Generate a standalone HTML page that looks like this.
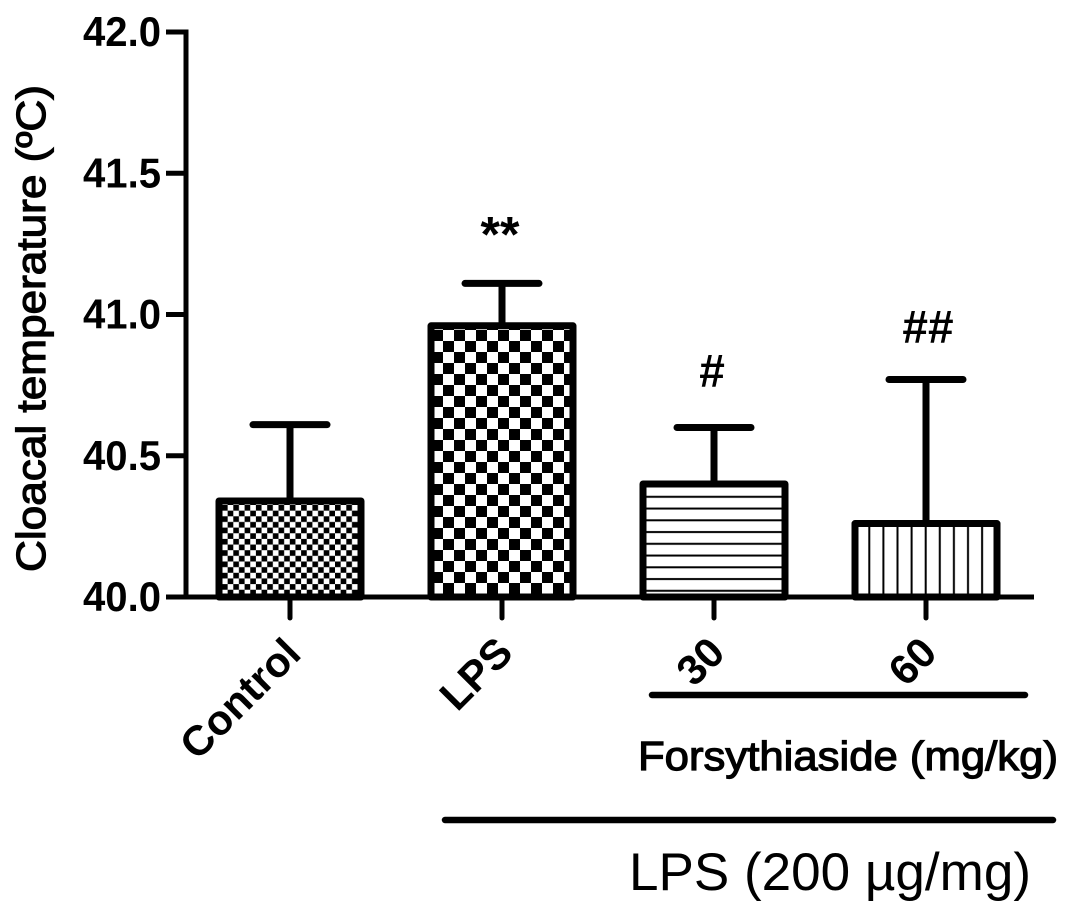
<!DOCTYPE html>
<html lang="en">
<head>
<meta charset="utf-8">
<title>Cloacal temperature chart</title>
<style>
html,body{margin:0;padding:0;background:#fff;}
svg{display:block;font-family:"Liberation Sans",Arial,sans-serif;}
</style>
</head>
<body>
<svg id="chart" width="1087" height="920" viewBox="0 0 1087 920" xmlns="http://www.w3.org/2000/svg">
  <defs>
    <pattern id="p-fine" patternUnits="userSpaceOnUse" width="11.3" height="11.3" x="222" y="505">
      <rect width="11.3" height="11.3" fill="#fff"/>
      <rect width="5.65" height="5.65" fill="#000"/>
      <rect x="5.65" y="5.65" width="5.65" height="5.65" fill="#000"/>
    </pattern>
    <pattern id="p-coarse" patternUnits="userSpaceOnUse" width="22" height="22" x="432" y="330">
      <rect width="22" height="22" fill="#fff"/>
      <rect x="0" y="0" width="11" height="11" fill="#000"/>
      <rect x="11" y="11" width="11" height="11" fill="#000"/>
    </pattern>
    <pattern id="p-horizontal" patternUnits="userSpaceOnUse" width="20" height="11.75" x="0" y="490.8">
      <rect width="20" height="11.75" fill="#fff"/>
      <rect y="5" width="20" height="2" fill="#000"/>
    </pattern>
    <pattern id="p-vertical" patternUnits="userSpaceOnUse" width="14.1" height="20" x="862.3" y="0">
      <rect width="14.1" height="20" fill="#fff"/>
      <rect x="6" width="2" height="20" fill="#000"/>
    </pattern>
  </defs>
  <g id="layer-bars"></g>
  <g id="layer-axes"></g>
  <g id="layer-labels"></g>
  <text transform="translate(45,572) rotate(-90)" font-size="41" stroke="#000" stroke-width="1.2" textLength="487" lengthAdjust="spacingAndGlyphs">Cloacal temperature (ºC)</text>
  <line x1="652" y1="695" x2="1025" y2="695" stroke="#000" stroke-width="6.5" stroke-linecap="round"/>
  <text x="638" y="770" font-size="41" stroke="#000" stroke-width="1.2" textLength="420" lengthAdjust="spacingAndGlyphs">Forsythiaside (mg/kg)</text>
  <line x1="445" y1="820" x2="1053" y2="820" stroke="#000" stroke-width="6.5" stroke-linecap="round"/>
  <text x="629" y="890" font-size="53" textLength="402" lengthAdjust="spacingAndGlyphs">LPS (200 µg/mg)</text>
</svg>
<script>
var categories = ['Control', 'LPS', '30', '60'];
var means = [40.34, 40.96, 40.40, 40.26];
var errorTops = [40.61, 41.11, 40.60, 40.77];
var annotations = ['', '**', '#', '##'];
var yTicks = [40.0, 40.5, 41.0, 41.5, 42.0];
var yTickLabels = ['40.0', '40.5', '41.0', '41.5', '42.0'];
var fills = ['url(#p-fine)', 'url(#p-coarse)', 'url(#p-horizontal)', 'url(#p-vertical)'];

var SVG_NS = 'http://www.w3.org/2000/svg';
var barsLayer = document.getElementById('layer-bars');
var axesLayer = document.getElementById('layer-axes');
var labelsLayer = document.getElementById('layer-labels');

function yScale(v) { return 597 - (v - 40) * 282.5; }
function xScale(i) { return 290 + i * 212; }

function make(tag, parent, attrs, text) {
  var el = document.createElementNS(SVG_NS, tag);
  for (var k in attrs) { el.setAttribute(k, attrs[k]); }
  if (text !== undefined) { el.textContent = text; }
  parent.appendChild(el);
  return el;
}

var barHalf = 71;
var capHalf = 37;

categories.forEach(function (cat, i) {
  var cx = xScale(i);
  var top = yScale(means[i]);
  var errTop = yScale(errorTops[i]);
  var base = yScale(40);

  var stem = make('line', barsLayer, { x1: cx, y1: top, x2: cx, y2: errTop, stroke: '#000', 'stroke-width': 7 });
  
  

  var cap = make('line', barsLayer, { x1: cx - capHalf, y1: errTop, x2: cx + capHalf, y2: errTop, stroke: '#000', 'stroke-width': 7, 'stroke-linecap': 'round' });
  
  

  var bar = make('rect', barsLayer, { x: cx - barHalf, y: top, width: barHalf * 2, height: base - top, fill: fills[i], stroke: '#000', 'stroke-width': 7, 'stroke-linejoin': 'round' });
  
  

  var tick = make('line', axesLayer, { x1: cx, y1: base, x2: cx, y2: 618, stroke: '#000', 'stroke-width': 5, 'stroke-linecap': 'round' });
  
  

  var ex = cx + 13;
  var ey = i === 0 ? 656 : 655;
  var catLabel = make('text', labelsLayer, { transform: 'translate(' + ex + ',' + ey + ') rotate(-45)', 'text-anchor': 'end', 'font-size': 42, 'font-weight': 'bold' }, cat);
  
  

  if (annotations[i]) {
    var note = make('text', labelsLayer, { x: i === 3 ? cx + 2 : cx - 2, y: errTop - (i === 1 ? 32 : i === 2 ? 41 : 37), 'text-anchor': 'middle', 'font-size': i === 1 ? 50 : 46, 'font-weight': 'bold' }, annotations[i]);
    
    
  }
});

var yAxisLine = make('line', axesLayer, { x1: 186, y1: yScale(42) - 2.5, x2: 186, y2: yScale(40) + 2, stroke: '#000', 'stroke-width': 5 });



var xAxisLine = make('line', axesLayer, { x1: 166, y1: yScale(40), x2: 1034, y2: yScale(40), stroke: '#000', 'stroke-width': 5 });



yTicks.forEach(function (t, i) {
  var y = yScale(t);
  var tick = make('line', axesLayer, { x1: 166, y1: y, x2: 186, y2: y, stroke: '#000', 'stroke-width': 5 });
  
  

  var label = make('text', labelsLayer, { x: 161, y: y + 14, 'text-anchor': 'end', 'font-size': 42, 'font-weight': 'bold', textLength: 78, lengthAdjust: 'spacingAndGlyphs' }, yTickLabels[i]);
  
  
});
</script>
</body>
</html>
